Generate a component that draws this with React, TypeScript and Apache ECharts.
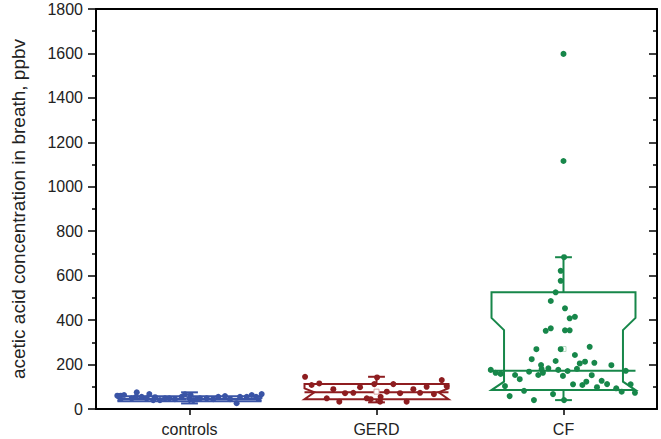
import React, { useEffect, useRef } from "react";
import * as echarts from "echarts";

const categories = ["controls", "GERD", "CF"];
const colors = ["#3A54A6", "#8E1D20", "#17874A"];
const meanColors = ["#9fb0e0", "#d9a0a0", "#b8dcc4"];

// box statistics (ppbv)
const whiskerLow = [25, 30, 40];
const q1 = [35, 44, 85];
const narrowLow = [45, 75, 123];
const median = [45, 75, 172];
const narrowHigh = [45, 75, 355];
const notchHigh = [50, 93, 410];
const q3 = [57, 112, 525];
const whiskerHigh = [75, 145, 683];
const means = [50, 78, 270];
const notchInset = [0.03, 0.053, 0.067];

// individual measurements: jitter offset (category units) and value
const controlsJitter = [-0.386, -0.368, -0.35, -0.282, -0.286, -0.256, -0.215, -0.194, -0.184, -0.131, -0.108, -0.078, -0.042, -0.024, -0.001, 0.006, 0.02, 0.039, 0.056, 0.092, 0.127, 0.154, 0.19, 0.217, 0.252, 0.27, 0.306, 0.333, 0.356, 0.386, -0.309, -0.229, -0.158];
const controlsValues = [60, 60, 63, 75, 55, 55, 67, 40, 53, 48, 48, 44, 55, 66, 48, 63, 40, 44, 48, 48, 44, 55, 58, 44, 26, 55, 55, 63, 55, 67, 48, 48, 40];

const gerdJitter = [-0.382, -0.347, -0.306, -0.266, -0.231, -0.199, -0.168, -0.124, -0.088, -0.052, -0.031, -0.012, 0.019, 0.022, 0.055, 0.09, 0.126, 0.161, 0.197, 0.233, 0.268, 0.307, 0.349, 0.375, 0.003];
const gerdValues = [145, 108, 115, 48, 89, 33, 71, 73, 98, 48, 44, 112, 33, 55, 78, 112, 71, 33, 89, 73, 100, 67, 130, 103, 142];

const cfJitter = [0.003, -0.015, -0.015, -0.042, -0.068, 0.008, 0.033, 0.061, -0.095, -0.068, 0.008, 0.033, -0.145, -0.015, 0.14, 0.061, -0.17, -0.042, 0.087, 0.115, 0.165, -0.12, 0.256, -0.117, -0.081, -0.184, -0.028, 0.022, 0.072, -0.389, -0.363, -0.336, 0.333, -0.135, -0.11, -0.003, -0.259, -0.234, 0.151, 0.122, 0.101, 0.051, 0.204, 0.233, -0.313, 0.359, 0.179, 0.282, 0.311, 0.382, -0.211, -0.288, -0.158, -0.056, 0.003, 0, 0];
const cfValues = [683, 622, 577, 525, 486, 453, 408, 415, 352, 363, 354, 354, 269, 269, 280, 243, 224, 216, 205, 213, 208, 198, 197, 179, 183, 168, 176, 171, 181, 176, 163, 158, 172, 153, 163, 149, 153, 134, 152, 123, 108, 111, 127, 112, 103, 111, 98, 93, 78, 73, 82, 58, 40, 67, 40, 1598, 1116];

const groupJitter = [controlsJitter, gerdJitter, cfJitter];
const groupValues = [controlsValues, gerdValues, cfValues];

const yTitle = "acetic acid concentration in breath, ppbv";
const FONT = "Liberation Sans, Arial, Helvetica, sans-serif";

export default function App() {
  const ref = useRef<HTMLDivElement>(null);
  useEffect(() => {
    document.body.style.margin = "0";
    if (!ref.current) return;
    const chart = echarts.init(ref.current, undefined, { renderer: "svg" });
    const boxData = categories.map((_, i) => [
      i, whiskerLow[i], q1[i], narrowLow[i], median[i], narrowHigh[i], notchHigh[i], q3[i], whiskerHigh[i], means[i],
    ]);
    const hw = 0.385;
    const cap = 0.045;
    const scatterSeries = categories.map((name, i) => ({
      type: "scatter",
      name,
      xAxisIndex: 1,
      yAxisIndex: 0,
      symbol: "circle",
      symbolSize: 6,
      z: 5,
      itemStyle: { color: colors[i], opacity: 1 },
      data: groupJitter[i].map((o, k) => [i + o, groupValues[i][k]]),
    }));
    const axisLine = { show: true, onZero: false, lineStyle: { color: "#000", width: 2 } };
    chart.setOption({
      animation: false,
      grid: { left: 96, right: 4, top: 9, bottom: 30 },
      xAxis: [
        {
          type: "category",
          data: categories,
          position: "bottom",
          boundaryGap: true,
          axisLine,
          axisTick: { show: true, alignWithLabel: true, length: 6, lineStyle: { color: "#000", width: 1.5 } },
          axisLabel: { fontSize: 16, color: "#222", margin: 12, fontFamily: FONT },
          splitLine: { show: false },
        },
        {
          type: "value",
          min: -0.5,
          max: 2.5,
          position: "top",
          axisLine,
          axisTick: { show: false },
          axisLabel: { show: false },
          splitLine: { show: false },
        },
      ],
      yAxis: [
        {
          type: "value",
          min: 0,
          max: 1800,
          interval: 200,
          position: "left",
          name: yTitle,
          nameLocation: "middle",
          nameGap: 68,
          nameTextStyle: { fontSize: 19, color: "#222", fontFamily: FONT },
          axisLine,
          axisTick: { show: true, length: 8, lineStyle: { color: "#000", width: 1.5 } },
          minorTick: { show: true, splitNumber: 2, length: 4, lineStyle: { color: "#000", width: 1.5 } },
          axisLabel: { fontSize: 16, color: "#222", margin: 13, fontFamily: FONT, formatter: (v: number) => String(v) },
          splitLine: { show: false },
        },
        {
          type: "value",
          min: 0,
          max: 1800,
          interval: 200,
          position: "right",
          axisLine,
          axisTick: { show: true, inside: true, length: 8, lineStyle: { color: "#000", width: 1.5 } },
          minorTick: { show: true, splitNumber: 2, length: 4, lineStyle: { color: "#000", width: 1.5 } },
          axisLabel: { show: false },
          splitLine: { show: false },
        },
      ],
      series: [
        {
          type: "custom",
          xAxisIndex: 1,
          yAxisIndex: 0,
          z: 3,
          encode: { x: 0, y: [1, 2, 3, 4, 5, 6, 7, 8, 9] },
          data: boxData,
          renderItem: (params: any, api: any) => {
            const i = api.value(0);
            const wLo = api.value(1);
            const bq1 = api.value(2);
            const nLo = api.value(3);
            const med = api.value(4);
            const nHi = api.value(5);
            const ntHi = api.value(6);
            const bq3 = api.value(7);
            const wHi = api.value(8);
            const mean = api.value(9);
            const ins = notchInset[i];
            const P = (dx: number, v: number) => api.coord([i + dx, v]);
            const c = colors[i];
            const st = { stroke: c, lineWidth: 2, fill: "none" };
            const line = (a: number[], b: number[]) => ({
              type: "line",
              shape: { x1: a[0], y1: a[1], x2: b[0], y2: b[1] },
              style: { stroke: c, lineWidth: 2 },
            });
            const m = P(0, mean);
            return {
              type: "group",
              children: [
                {
                  type: "polygon",
                  shape: {
                    points: [
                      P(-hw, bq3), P(hw, bq3), P(hw, ntHi), P(hw - ins, nHi), P(hw - ins, nLo), P(hw, bq1),
                      P(-hw, bq1), P(-hw + ins, nLo), P(-hw + ins, nHi), P(-hw, ntHi),
                    ],
                  },
                  style: st,
                },
                line(P(-hw, med), P(hw, med)),
                line(P(0, bq3), P(0, wHi)),
                line(P(0, bq1), P(0, wLo)),
                line(P(-cap, wHi), P(cap, wHi)),
                line(P(-cap, wLo), P(cap, wLo)),
                {
                  type: "rect",
                  shape: { x: m[0] - 2.5, y: m[1] - 2.5, width: 5, height: 5 },
                  style: { stroke: meanColors[i], lineWidth: 1, fill: "#fff" },
                },
              ],
            };
          },
        },
        ...scatterSeries,
      ],
    });
    return () => chart.dispose();
  }, []);
  return <div ref={ref} style={{ width: 661, height: 439 }} />;
}
